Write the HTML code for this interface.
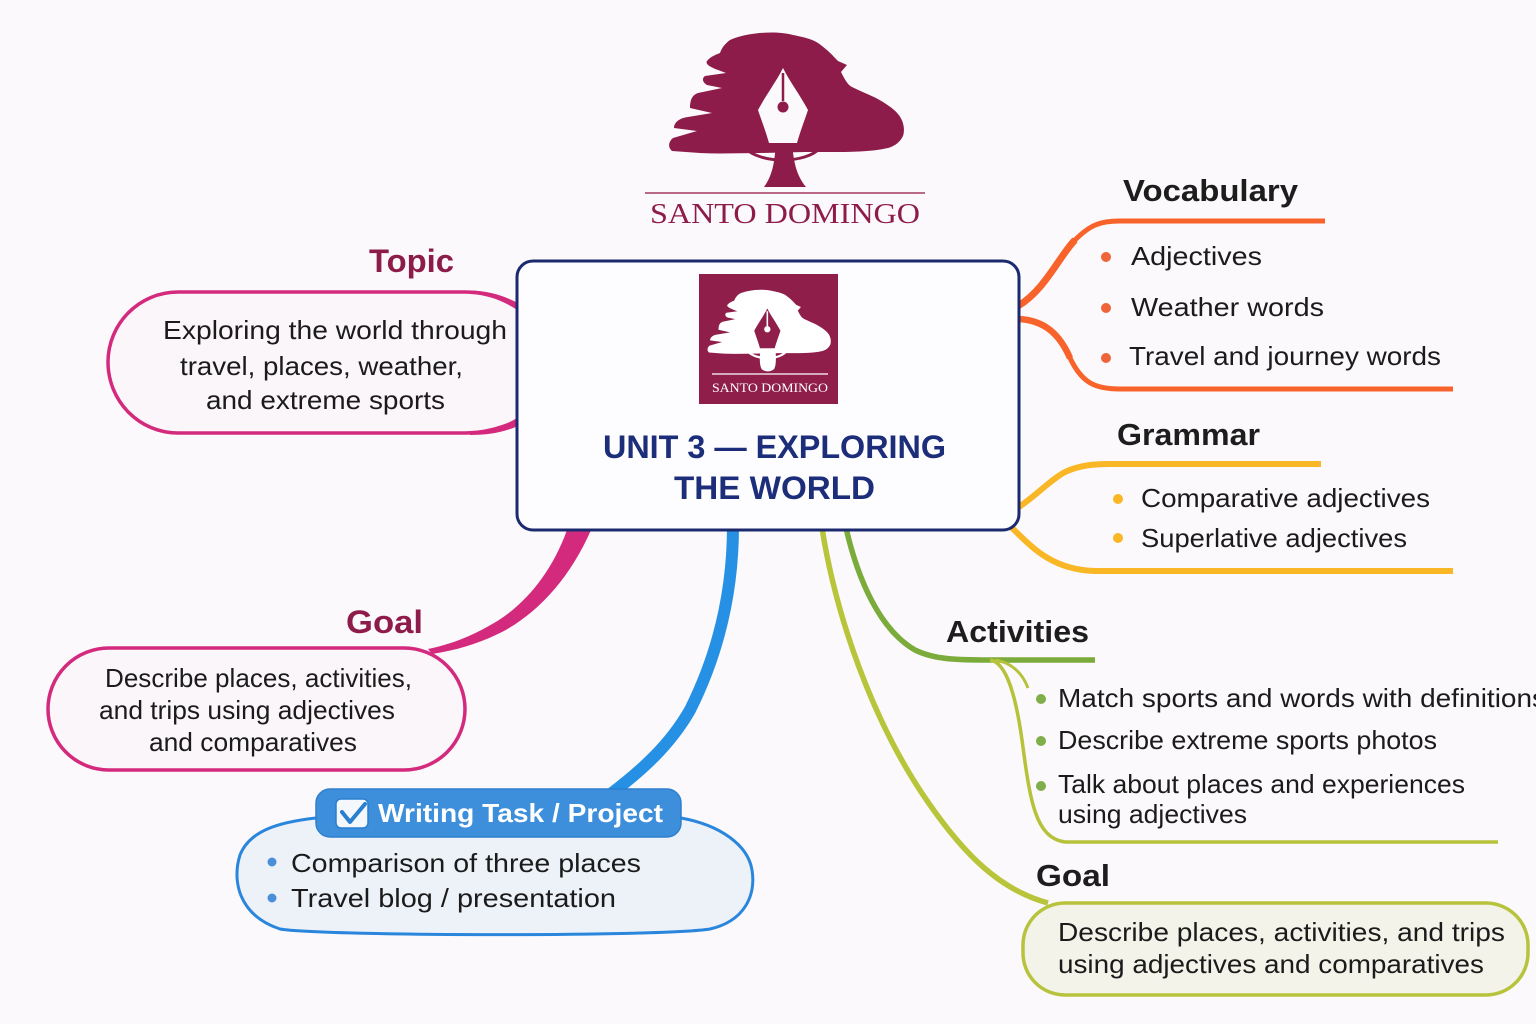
<!DOCTYPE html>
<html>
<head>
<meta charset="utf-8">
<style>
html,body{margin:0;padding:0;width:1536px;height:1024px;overflow:hidden;background:#fbf9fb;}
svg{display:block;}
text{font-family:"Liberation Sans",Arial,sans-serif;}
.b{font-size:26px;fill:#1b1b1b;}
.h{font-size:31px;font-weight:700;fill:#1d1d1d;}
.m{font-size:32px;font-weight:700;fill:#8e1c4a;}
.serif{font-family:"Liberation Serif","Times New Roman",serif;}
</style>
</head>
<body>
<svg width="1536" height="1024" viewBox="0 0 1536 1024" xmlns="http://www.w3.org/2000/svg">
  <rect x="0" y="0" width="1536" height="1024" fill="#fbf9fb"/>

  <!-- ===== Top logo ===== -->
  <g>
    <path fill="#8e1c4a" d="M730,40 C745,33 775,30 793,35 C808,38 815,40 822,46 C830,52 834,57 838,61 L847,65 L841,72 C845,80 848,85 852,87 C862,92 870,95 876,98 C885,103 893,108 898,114 C904,121 905,130 903,136 C900,142 895,146 888,148 C870,152 850,152 830,152 L805,152 L760,153 C740,153 720,154 700,153 L672,151 C668,148 668,142 673,138 L697,131 L674,128 C674,122 680,118 688,117 L712,113 L690,108 C690,100 692,95 698,93 L722,88 L707,85 C702,82 702,78 705,76 L726,73 L718,70 C710,67 705,64 707,61 C710,57 715,55 720,53 C722,47 726,43 730,40 Z"/>
    <path fill="#8e1c4a" d="M776,140 L792,140 C793,160 796,175 806,187 L764,187 C773,175 775,160 776,140 Z"/>
    <path d="M745,148 C760,164 806,164 820,148" fill="none" stroke="#8e1c4a" stroke-width="3"/>
    <path fill="#fbf9fb" d="M783,68 C790,82 800,95 808,110 C804,122 800,132 797,143 L769,143 C766,132 762,122 758,110 C766,95 776,82 783,68 Z"/>
    <line x1="783" y1="73" x2="783" y2="101" stroke="#8e1c4a" stroke-width="2.5"/>
    <circle cx="783" cy="107" r="5.5" fill="#8e1c4a"/>
    <line x1="645" y1="193" x2="925" y2="193" stroke="#a13a62" stroke-width="1.6"/>
    <text class="serif" x="650" y="223" font-size="29" fill="#8e1c4a" textLength="270" lengthAdjust="spacingAndGlyphs">SANTO DOMINGO</text>
  </g>

  <!-- ===== Connectors ===== -->
  <path d="M567,530 C552,572 525,605 494,623 C472,636 452,644 428,649 L432,654 C458,650 480,643 502,632 C538,613 570,578 591,530 Z" fill="#d32a7d"/>
  <path d="M733,526 C733,600 715,660 690,710 C670,745 642,770 612,793" fill="none" stroke="#2690e4" stroke-width="12"/>
  <path d="M846,528 C858,580 880,630 915,650 C935,660 960,660 990,660 L1095,660" fill="none" stroke="#7aab3b" stroke-width="5.5"/>
  <path d="M822,528 C835,610 870,720 930,805 C965,855 1000,890 1048,903" fill="none" stroke="#b8c53a" stroke-width="5.5"/>
  <path d="M990,660 C1005,662 1015,690 1022,740 C1030,800 1035,838 1065,842 L1498,842" fill="none" stroke="#b6c23a" stroke-width="3.5"/>
  <path d="M995,660 C1010,662 1022,672 1028,688" fill="none" stroke="#b6c23a" stroke-width="3"/>
  <!-- orange -->
  <path d="M1018,306 C1045,290 1060,255 1075,240 C1090,225 1100,221 1120,221 L1325,221" fill="none" stroke="#f7632a" stroke-width="5"/>
  <path d="M1018,306 C1045,290 1060,255 1075,240" fill="none" stroke="#f7632a" stroke-width="7"/>
  <path d="M1018,319 C1045,320 1060,335 1070,358 C1082,383 1095,389 1120,389 L1453,389" fill="none" stroke="#f7632a" stroke-width="5"/>
  <path d="M1018,319 C1045,320 1060,335 1070,358" fill="none" stroke="#f7632a" stroke-width="6.5"/>
  <!-- yellow -->
  <path d="M1016,509 C1035,497 1050,480 1065,472 C1080,465 1095,464 1110,464 L1321,464" fill="none" stroke="#f9b625" stroke-width="6"/>
  <path d="M1008,524 C1030,545 1050,570 1095,571 L1453,571" fill="none" stroke="#f9b625" stroke-width="6"/>

  <!-- ===== Topic pill ===== -->
  <path d="M518,306 C500,296 485,292 465,292 L178,292 C139,292 108,324 108,362 C108,401 139,433 178,433 L465,433 C485,433 500,428 518,421 Z" fill="#fbf6f9" stroke="#d42a7e" stroke-width="3.5"/>
  <path d="M470,290.5 C492,291 506,297 520,304 L520,312 C506,302 490,295 470,294 Z" fill="#d42a7e"/>
  <path d="M470,431 C490,431 505,426 520,416 L520,425 C505,432 490,435 470,435 Z" fill="#d42a7e"/>
  <text class="m" x="369" y="272" textLength="85" lengthAdjust="spacingAndGlyphs">Topic</text>
  <text class="b" x="163" y="339" textLength="344" lengthAdjust="spacingAndGlyphs">Exploring the world through</text>
  <text class="b" x="180" y="375" textLength="283" lengthAdjust="spacingAndGlyphs">travel, places, weather,</text>
  <text class="b" x="206" y="409" textLength="239" lengthAdjust="spacingAndGlyphs">and extreme sports</text>

  <!-- ===== Goal pill (left) ===== -->
  <rect x="48" y="648" width="417" height="122" rx="61" fill="#fbf6f9" stroke="#d42a7e" stroke-width="3.5"/>
  <text class="m" x="346" y="633" textLength="77" lengthAdjust="spacingAndGlyphs">Goal</text>
  <text class="b" x="105" y="687" font-size="25" textLength="307" lengthAdjust="spacingAndGlyphs">Describe places, activities,</text>
  <text class="b" x="99" y="719" font-size="25" textLength="296" lengthAdjust="spacingAndGlyphs">and trips using adjectives</text>
  <text class="b" x="149" y="751" font-size="25" textLength="208" lengthAdjust="spacingAndGlyphs">and comparatives</text>

  <!-- ===== Writing task ===== -->
  <path d="M316,818 C280,822 250,830 240,855 C232,880 238,915 280,929 C320,936 660,937 710,929 C745,921 756,895 752,870 C748,845 720,825 681,818 Z" fill="#edf2f9" stroke="#2a86dc" stroke-width="3"/>
  <rect x="316" y="789" width="365" height="48" rx="14" fill="#3d8fdc" stroke="#2f7fcf" stroke-width="1.5"/>
  <rect x="336" y="799" width="32" height="29" rx="5" fill="#f4f8fd" stroke="#2a7fd0" stroke-width="1.5"/>
  <path d="M342,812 L350,822 L365,804" fill="none" stroke="#2a7fd0" stroke-width="4" stroke-linecap="round" stroke-linejoin="round"/>
  <text x="378" y="822" font-size="26" font-weight="700" fill="#ffffff" textLength="285" lengthAdjust="spacingAndGlyphs">Writing Task / Project</text>
  <circle cx="272" cy="862" r="4.5" fill="#4a8fd8"/>
  <circle cx="272" cy="898" r="4.5" fill="#4a8fd8"/>
  <text class="b" x="291" y="872" textLength="350" lengthAdjust="spacingAndGlyphs">Comparison of three places</text>
  <text class="b" x="291" y="907" textLength="325" lengthAdjust="spacingAndGlyphs">Travel blog / presentation</text>

  <!-- ===== Right side ===== -->
  <text class="h" x="1123" y="201" textLength="175" lengthAdjust="spacingAndGlyphs">Vocabulary</text>
  <circle cx="1106" cy="257" r="5" fill="#f0643a"/>
  <circle cx="1106" cy="308" r="5" fill="#f0643a"/>
  <circle cx="1106" cy="358" r="5" fill="#f0643a"/>
  <text class="b" x="1131" y="265" textLength="131" lengthAdjust="spacingAndGlyphs">Adjectives</text>
  <text class="b" x="1131" y="316" textLength="193" lengthAdjust="spacingAndGlyphs">Weather words</text>
  <text class="b" x="1129" y="365" textLength="312" lengthAdjust="spacingAndGlyphs">Travel and journey words</text>

  <text class="h" x="1117" y="445" textLength="143" lengthAdjust="spacingAndGlyphs">Grammar</text>
  <circle cx="1118" cy="499" r="5" fill="#f9b625"/>
  <circle cx="1118" cy="538" r="5" fill="#f9b625"/>
  <text class="b" x="1141" y="507" textLength="289" lengthAdjust="spacingAndGlyphs">Comparative adjectives</text>
  <text class="b" x="1141" y="547" textLength="266" lengthAdjust="spacingAndGlyphs">Superlative adjectives</text>

  <text class="h" x="946" y="642" textLength="143" lengthAdjust="spacingAndGlyphs">Activities</text>
  <circle cx="1041" cy="699" r="5" fill="#7fae4a"/>
  <circle cx="1041" cy="741" r="5" fill="#7fae4a"/>
  <circle cx="1041" cy="786" r="5" fill="#7fae4a"/>
  <text class="b" x="1058" y="707" textLength="488" lengthAdjust="spacingAndGlyphs">Match sports and words with definitions</text>
  <text class="b" x="1058" y="749" textLength="379" lengthAdjust="spacingAndGlyphs">Describe extreme sports photos</text>
  <text class="b" x="1058" y="793" textLength="407" lengthAdjust="spacingAndGlyphs">Talk about places and experiences</text>
  <text class="b" x="1058" y="823" textLength="189" lengthAdjust="spacingAndGlyphs">using adjectives</text>

  <text class="h" x="1036" y="886" textLength="74" lengthAdjust="spacingAndGlyphs">Goal</text>
  <rect x="1023" y="903" width="505" height="92" rx="42" fill="#f3f3ea" stroke="#b7c33c" stroke-width="3.5"/>
  <text class="b" x="1058" y="941" textLength="447" lengthAdjust="spacingAndGlyphs">Describe places, activities, and trips</text>
  <text class="b" x="1058" y="973" textLength="426" lengthAdjust="spacingAndGlyphs">using adjectives and comparatives</text>

  <!-- ===== Central box ===== -->
  <rect x="517" y="261" width="502" height="269" rx="16" fill="#fdfcfe" stroke="#1b2a6e" stroke-width="3"/>
  <rect x="699" y="274" width="139" height="130" fill="#8f1f4a"/>
  <g transform="translate(708,290) scale(0.525,0.53) translate(-670,-33)">
    <path fill="#ffffff" d="M730,40 C745,33 775,30 793,35 C808,38 815,40 822,46 C830,52 834,57 838,61 L847,65 L841,72 C845,80 848,85 852,87 C862,92 870,95 876,98 C885,103 893,108 898,114 C904,121 905,130 903,136 C900,142 895,146 888,148 C870,152 850,152 830,152 L805,152 L760,153 C740,153 720,154 700,153 L672,151 C668,148 668,142 673,138 L697,131 L674,128 C674,122 680,118 688,117 L712,113 L690,108 C690,100 692,95 698,93 L722,88 L707,85 C702,82 702,78 705,76 L726,73 L718,70 C710,67 705,64 707,61 C710,57 715,55 720,53 C722,47 726,43 730,40 Z"/>
    <path fill="#ffffff" d="M770,140 L798,140 C800,160 800,175 796,182 C790,188 778,188 772,182 C768,175 768,160 770,140 Z"/>
    <path d="M745,148 C760,166 806,166 820,148" fill="none" stroke="#ffffff" stroke-width="4"/>
    <path fill="#8f1f4a" d="M783,68 C790,82 800,95 808,110 C804,122 800,132 797,143 L769,143 C766,132 762,122 758,110 C766,95 776,82 783,68 Z"/>
    <line x1="783" y1="73" x2="783" y2="101" stroke="#ffffff" stroke-width="3"/>
    <circle cx="783" cy="107" r="6" fill="#ffffff"/>
  </g>
  <line x1="712" y1="374" x2="828" y2="374" stroke="#ffffff" stroke-width="1.3"/>
  <text class="serif" x="712" y="392" font-size="12.5" fill="#ffffff" textLength="116" lengthAdjust="spacingAndGlyphs">SANTO DOMINGO</text>
  <text x="603" y="458" font-size="32" font-weight="700" fill="#1c2d7a" textLength="343" lengthAdjust="spacingAndGlyphs">UNIT 3 — EXPLORING</text>
  <text x="674" y="499" font-size="32" font-weight="700" fill="#1c2d7a" textLength="201" lengthAdjust="spacingAndGlyphs">THE WORLD</text>
</svg>
</body>
</html>
